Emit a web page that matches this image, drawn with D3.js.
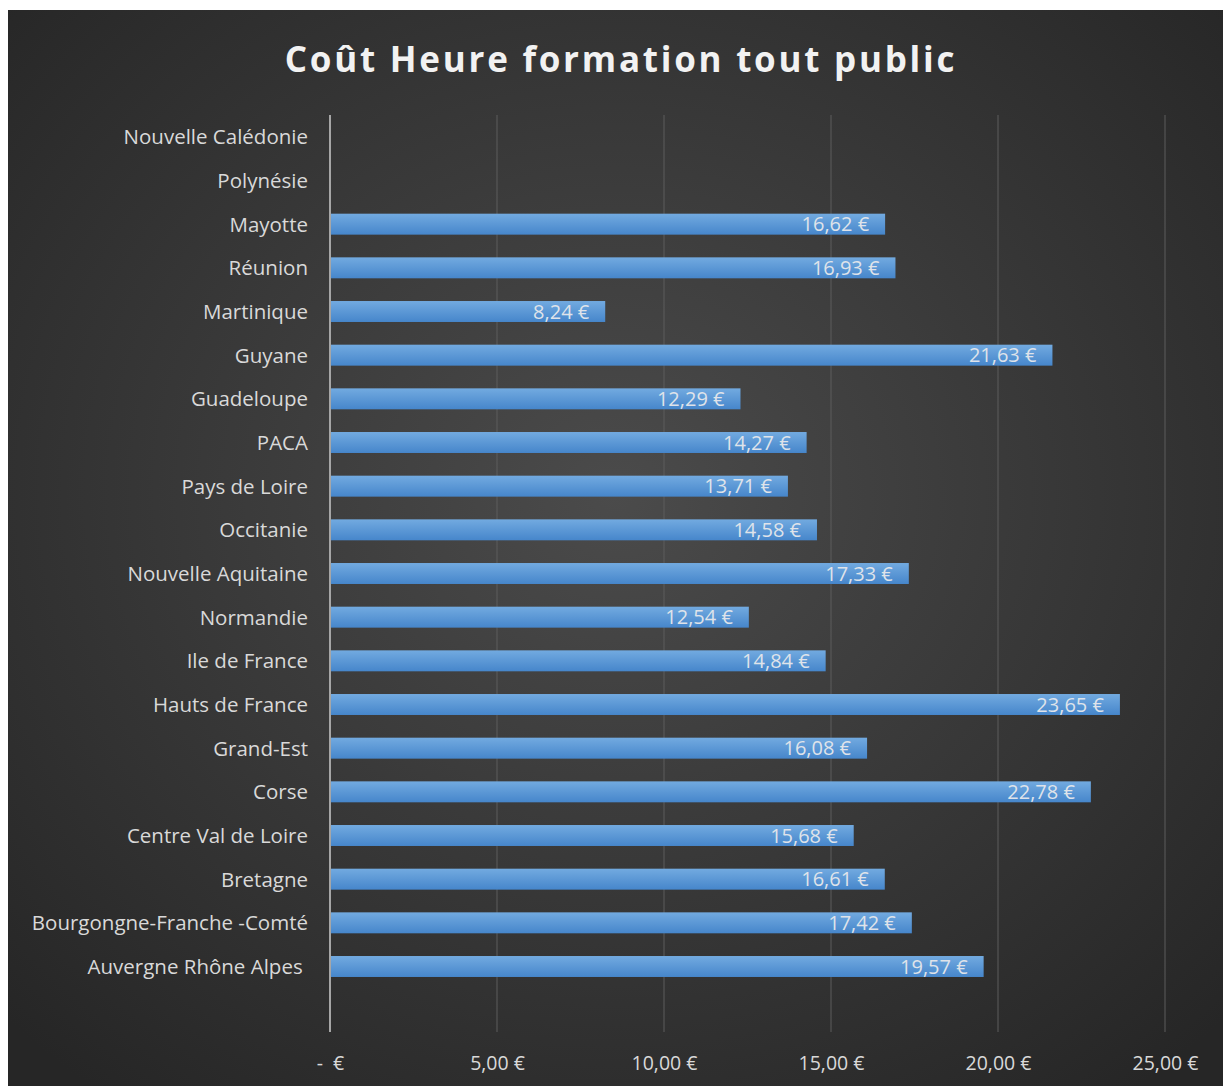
<!DOCTYPE html>
<html><head><meta charset="utf-8">
<script src="https://cdn.jsdelivr.net/npm/d3@7"></script>
<style>html,body{margin:0;padding:0;background:#fff;}svg{display:block;}</style>
</head><body>
<svg id="c" width="1223" height="1086"></svg>
<script>
const categories = ["Nouvelle Calédonie","Polynésie","Mayotte","Réunion","Martinique","Guyane","Guadeloupe","PACA","Pays de Loire","Occitanie","Nouvelle Aquitaine","Normandie","Ile de France","Hauts de France","Grand-Est","Corse","Centre Val de Loire","Bretagne","Bourgongne-Franche -Comté","Auvergne Rhône Alpes ",""];
const values = [null,null,16.62,16.93,8.24,21.63,12.29,14.27,13.71,14.58,17.33,12.54,14.84,23.65,16.08,22.78,15.68,16.61,17.42,19.57,null];
const tickValues = [0,5,10,15,20,25];
const title = "Coût Heure formation tout public";

const svg = d3.select("#c");
const defs = svg.append("defs");
const rg = defs.append("radialGradient").attr("id","bg").attr("cx","50%").attr("cy","45%").attr("r","70%");
rg.append("stop").attr("offset","0%").attr("stop-color","#4b4b4b");
rg.append("stop").attr("offset","100%").attr("stop-color","#262626");
const lg = defs.append("linearGradient").attr("id","bar").attr("x1",0).attr("y1",0).attr("x2",0).attr("y2",1);
lg.append("stop").attr("offset","0%").attr("stop-color","#72aae0");
lg.append("stop").attr("offset","100%").attr("stop-color","#4686cb");

svg.append("rect").attr("x",8).attr("y",10).attr("width",1215).attr("height",1076).attr("fill","url(#bg)");

const fmt = v => v === 0 ? "-  €" : d3.format(".2f")(v).replace(".",",") + " €";

const x = d3.scaleLinear().domain([0,25]).range([330,1165]);
const y = d3.scaleBand().domain(categories).range([115,1032]).paddingInner(0.52).paddingOuter(0.26);

// gridlines
svg.append("g").selectAll("line").data(tickValues.slice(1)).join("line")
  .attr("x1",d=>x(d)).attr("x2",d=>x(d)).attr("y1",115).attr("y2",1032)
  .attr("stroke","#5c5c5c").attr("stroke-width",1);

// bars
const data = categories.map((c,i)=>({c, v: values[i]})).filter(d=>d.v!=null);
svg.append("g").selectAll("rect").data(data).join("rect")
  .attr("x",x(0)).attr("y",d=>y(d.c)).attr("width",d=>x(d.v)-x(0)).attr("height",y.bandwidth())
  .attr("fill","url(#bar)");

// data labels
svg.append("g").selectAll("text").data(data).join("text")
  .attr("x",d=>x(d.v)-16).attr("y",d=>y(d.c)+y.bandwidth()/2).attr("dy","0.36em")
  .attr("text-anchor","end").attr("fill","#dfe3ea")
  .style("font-family","'Open Sans', sans-serif").style("font-size","20px")
  .text(d=>fmt(d.v));

// axis line
svg.append("line").attr("x1",x(0)).attr("x2",x(0)).attr("y1",115).attr("y2",1032)
  .attr("stroke","#a6a6a6").attr("stroke-width",2);

// category labels
const yAxis = d3.axisLeft(y).tickSize(0).tickPadding(0);
const gy = svg.append("g").attr("transform","translate(308,0)").call(yAxis);
gy.select(".domain").remove();
gy.selectAll("text").attr("fill","#d9d9d9").style("font-family","'Open Sans', sans-serif").style("font-size","20.5px").attr("dy","0.36em")
  .style("white-space","pre");

// x axis labels
const xAxis = d3.axisBottom(x).tickValues(tickValues).tickSize(0).tickPadding(0).tickFormat(fmt);
const gx = svg.append("g").attr("transform","translate(0,1063)").call(xAxis);
gx.select(".domain").remove();
gx.selectAll("text").attr("fill","#d9d9d9").attr("dy","0.36em").style("font-family","'Open Sans', sans-serif").style("font-size","19.5px")
  .style("white-space","pre");

// title
svg.append("text").attr("x",621).attr("y",72).attr("text-anchor","middle")
  .attr("fill","#f2f2f2").style("font-family","'Open Sans', sans-serif").style("font-weight","bold")
  .style("font-size","35px").style("letter-spacing","2.75px").text(title);
</script>
</body></html>
